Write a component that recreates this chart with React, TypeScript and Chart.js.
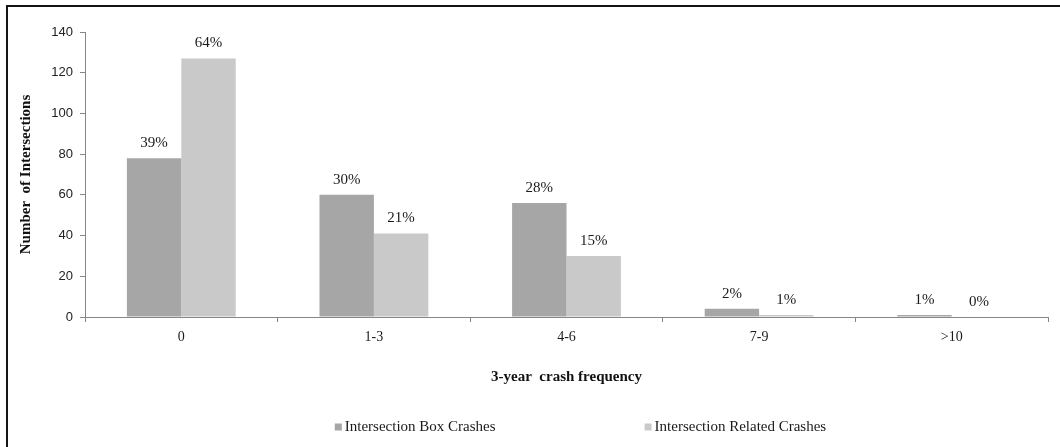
import { useEffect, useRef } from "react";
import { Chart, registerables } from "chart.js";

Chart.register(...registerables);

// 3-year crash frequency bins and intersection counts per bin
const categories = ["0", "1-3", "4-6", "7-9", ">10"];
const boxCrashes = [78, 60, 56, 4, 1];
const relatedCrashes = [127, 41, 30, 1, 0];
const boxShares = ["39%", "30%", "28%", "2%", "1%"];
const relatedShares = ["64%", "21%", "15%", "1%", "0%"];

const Y_MIN = 0;
const Y_MAX = 140;
const Y_STEP = 20;

const DARK = "#a6a6a6";
const LIGHT = "#c9c9c9";
const AXIS = "#868686";
const SERIF = "'Liberation Serif', 'Times New Roman', serif";
const SANS = "'Liberation Sans', Arial, sans-serif";

// Percentage share written above each bar
const shareLabels = {
  id: "shareLabels",
  afterDatasetsDraw(chart: any) {
    const ctx = chart.ctx as CanvasRenderingContext2D;
    ctx.save();
    ctx.font = `15px ${SERIF}`;
    ctx.fillStyle = "#1a1a1a";
    ctx.textAlign = "center";
    ctx.textBaseline = "middle";
    [boxShares, relatedShares].forEach((labels, di) => {
      const meta = chart.getDatasetMeta(di);
      meta.data.forEach((bar: any, i: number) => {
        ctx.fillText(labels[i], bar.x, bar.y - 15);
      });
    });
    ctx.restore();
  },
};

// Legend row along the bottom with small square swatches
const bottomLegend = {
  id: "bottomLegend",
  afterDraw(chart: any) {
    const ctx = chart.ctx as CanvasRenderingContext2D;
    const area = chart.chartArea;
    ctx.save();
    ctx.font = `15px ${SERIF}`;
    ctx.textAlign = "left";
    ctx.textBaseline = "middle";
    const box = 7;
    const gapText = 3;
    const gapItems = 149;
    const items = chart.data.datasets.map((ds: any) => ({
      text: ds.label as string,
      color: ds.backgroundColor as string,
      w: box + gapText + ctx.measureText(ds.label).width,
    }));
    const total =
      items.reduce((s: number, it: any) => s + it.w, 0) + gapItems * (items.length - 1);
    const center = (area.left + area.right) / 2 + 14;
    let x = center - total / 2;
    const y = chart.height - 20;
    items.forEach((it: any) => {
      ctx.fillStyle = it.color;
      ctx.fillRect(x, y - box / 2, box, box);
      ctx.fillStyle = "#1a1a1a";
      ctx.fillText(it.text, x + box + gapText, y);
      x += it.w + gapItems;
    });
    ctx.restore();
  },
};

function CrashChart() {
  const canvasRef = useRef<HTMLCanvasElement | null>(null);

  useEffect(() => {
    if (!canvasRef.current) return;
    const chart = new Chart(canvasRef.current, {
      type: "bar",
      data: {
        labels: categories,
        datasets: [
          {
            label: "Intersection Box Crashes",
            data: boxCrashes,
            backgroundColor: DARK,
            borderWidth: 0,
            categoryPercentage: 0.565,
            barPercentage: 1,
          },
          {
            label: "Intersection Related Crashes",
            data: relatedCrashes,
            backgroundColor: LIGHT,
            borderWidth: 0,
            categoryPercentage: 0.565,
            barPercentage: 1,
          },
        ],
      },
      options: {
        responsive: false,
        animation: false,
        devicePixelRatio: 1,
        layout: { padding: { left: 8, right: 12, top: 32, bottom: 61 } },
        plugins: {
          legend: { display: false },
          tooltip: { enabled: false },
        },
        scales: {
          x: {
            grid: {
              drawOnChartArea: false,
              drawTicks: true,
              tickLength: 5,
              color: AXIS,
              offset: true,
            },
            border: { color: AXIS },
            ticks: {
              font: { family: SERIF, size: 14 },
              color: "#1a1a1a",
              padding: 7,
            },
            title: {
              display: true,
              text: "3-year  crash frequency",
              font: { family: SERIF, size: 15, weight: "bold" },
              color: "#111",
              padding: { top: 0, bottom: 0 },
            },
            afterFit: (scale: any) => {
              scale.height = 69;
            },
          },
          y: {
            min: Y_MIN,
            max: Y_MAX,
            grid: {
              drawOnChartArea: false,
              drawTicks: true,
              tickLength: 5,
              color: AXIS,
            },
            border: { color: AXIS },
            ticks: {
              stepSize: Y_STEP,
              font: { family: SANS, size: 13 },
              color: "#222",
              padding: 7,
            },
            title: {
              display: true,
              text: "Number  of Intersections",
              font: { family: SERIF, size: 15, weight: "bold" },
              color: "#111",
              padding: { top: 9, bottom: 0 },
            },
            afterFit: (scale: any) => {
              scale.width = 77;
            },
          },
        },
      },
      plugins: [shareLabels, bottomLegend],
    });
    return () => chart.destroy();
  }, []);

  return (
    <canvas
      ref={canvasRef}
      width={1060}
      height={447}
      style={{ position: "absolute", left: 0, top: 0, width: 1060, height: 447 }}
    />
  );
}

export default function App() {
  return (
    <div
      style={{
        position: "fixed",
        left: 0,
        top: 0,
        width: 1060,
        height: 447,
        background: "#fff",
        overflow: "hidden",
      }}
    >
      <CrashChart />
      <div
        style={{
          position: "absolute",
          left: 6,
          top: 5,
          right: 0,
          bottom: 0,
          borderLeft: "2px solid #151515",
          borderTop: "2px solid #151515",
          pointerEvents: "none",
        }}
      />
    </div>
  );
}
